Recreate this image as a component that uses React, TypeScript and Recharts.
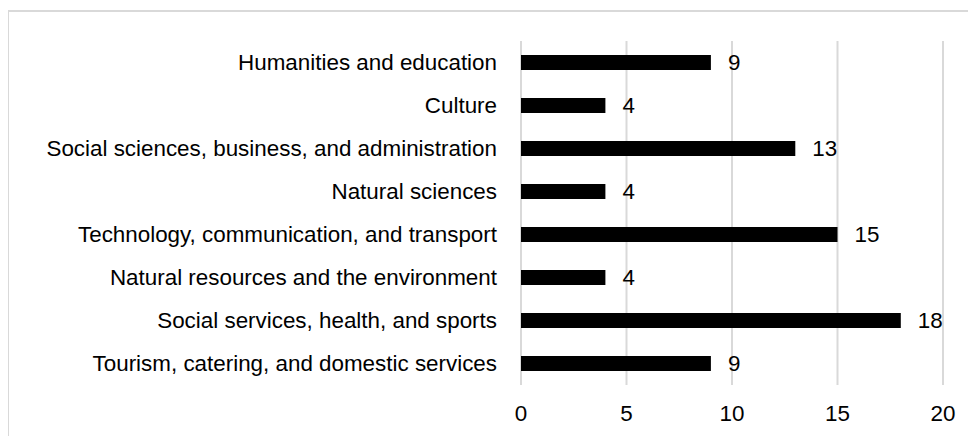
import React from "react";
import { BarChart, Bar, XAxis, YAxis, CartesianGrid, LabelList } from "recharts";

const categories = [
  "Humanities and education",
  "Culture",
  "Social sciences, business, and administration",
  "Natural sciences",
  "Technology, communication, and transport",
  "Natural resources and the environment",
  "Social services, health, and sports",
  "Tourism, catering, and domestic services",
];

const counts = [9, 4, 13, 4, 15, 4, 18, 9];

const xTicks = [0, 5, 10, 15, 20];

const data = categories.map((name, i) => ({ name, value: counts[i] }));

const FONT = "'Liberation Sans', Arial, sans-serif";
const FS = 22.4;

export default function App() {
  return (
    <div style={{ position: "relative", width: 968, height: 428, fontFamily: FONT }}>
      <div
        style={{
          position: "absolute",
          left: -1,
          top: 2,
          right: 0,
          bottom: 0,
          borderTop: "2px solid #d9d9d9",
          borderLeft: "2px solid #d9d9d9",
        }}
      />
      <div style={{ position: "absolute", left: 0, top: 0 }}>
        <BarChart
          width={968}
          height={428}
          data={data}
          layout="vertical"
          margin={{ top: 33, right: 33, bottom: 23, left: 0 }}
        >
          <CartesianGrid horizontal={false} stroke="#d9d9d9" strokeWidth={2} />
          <XAxis
            type="number"
            domain={[0, 20]}
            ticks={xTicks}
            axisLine={false}
            tickLine={false}
            tickSize={0}
            tickMargin={20}
            height={28}
            tick={{ fill: "#000", fontSize: FS, fontFamily: FONT }}
          />
          <YAxis
            type="category"
            dataKey="name"
            width={513}
            axisLine={false}
            tickLine={false}
            tickSize={0}
            tickMargin={24}
            interval={0}
            tick={{ fill: "#000", fontSize: FS, fontFamily: FONT }}
          />
          <Bar dataKey="value" fill="#000" barSize={15} isAnimationActive={false}>
            <LabelList
              dataKey="value"
              position="right"
              offset={17}
              fill="#000"
              fontSize={FS}
              fontFamily={FONT}
            />
          </Bar>
        </BarChart>
      </div>
    </div>
  );
}
